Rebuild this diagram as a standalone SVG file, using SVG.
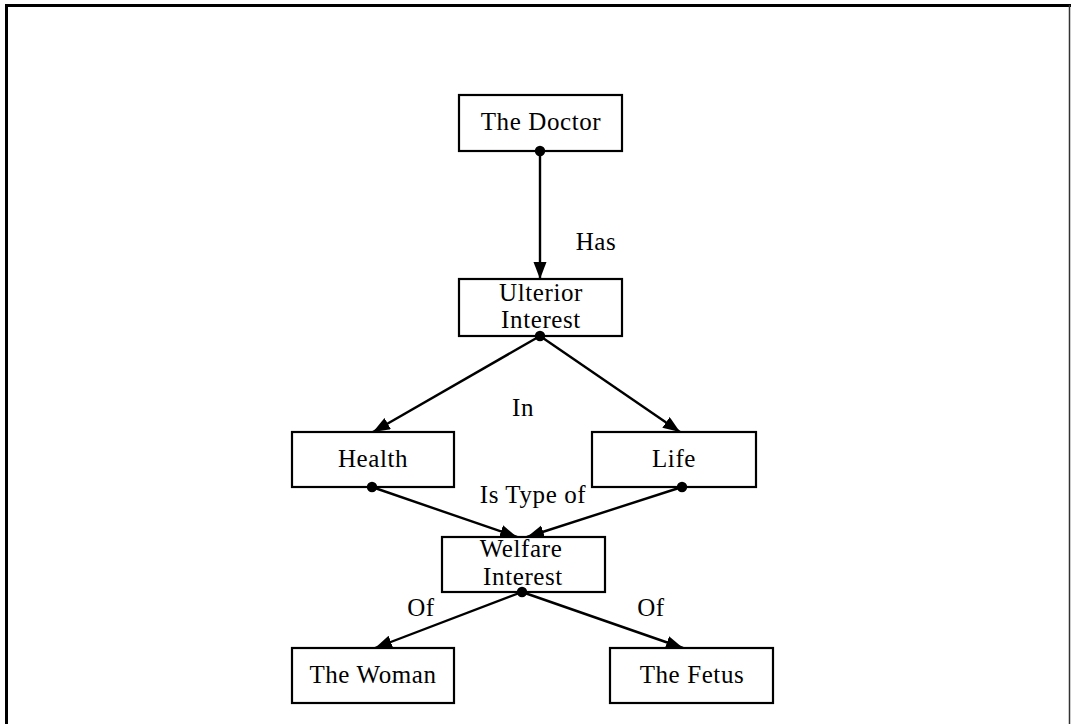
<svg xmlns="http://www.w3.org/2000/svg" width="1071" height="724" viewBox="0 0 1071 724">
<style>
.box{fill:#fff;stroke:#000;stroke-width:2.2}
.t{font-family:"Liberation Serif","Times New Roman",serif;font-size:25px;letter-spacing:0.6px;text-anchor:middle;fill:#000}
.c{stroke:#000;stroke-width:2.4;fill:none;marker-end:url(#arr)}
.d{fill:#000}
</style>
<defs>
<marker id="arr" markerUnits="userSpaceOnUse" markerWidth="20" markerHeight="14" refX="17" refY="6.5" orient="auto">
<path d="M0,0 L17,6.5 L0,13 Z" fill="#000"/>
</marker>
</defs>
<rect width="1071" height="724" fill="#fff"/>
<g id="frame">
<line x1="5" y1="5.5" x2="1071" y2="5.5" stroke="#000" stroke-width="3"/>
<line x1="6.5" y1="4" x2="6.5" y2="724" stroke="#000" stroke-width="3"/>
<line x1="1069.5" y1="5" x2="1069.5" y2="724" stroke="#333" stroke-width="1.5"/>
</g>
<g id="connectors">
<line class="c" x1="540" y1="151" x2="540" y2="279"/>
<line class="c" x1="540" y1="336" x2="373" y2="432"/>
<line class="c" x1="540" y1="336" x2="680" y2="432"/>
<line class="c" x1="372" y1="487" x2="517" y2="537"/>
<line class="c" x1="682" y1="487" x2="527" y2="537"/>
<line class="c" x1="522" y1="592" x2="375" y2="648"/>
<line class="c" x1="522" y1="592" x2="683" y2="648"/>
<text class="t" x="596" y="250">Has</text>
<text class="t" x="523" y="416">In</text>
<text class="t" x="533" y="503">Is Type of</text>
<text class="t" x="421" y="616">Of</text>
<text class="t" x="651" y="616">Of</text>
</g>
<g id="doctor">
<rect class="box" x="459" y="95" width="163" height="56"/>
<text class="t" x="541" y="130">The Doctor</text>
</g>
<g id="ulterior">
<rect class="box" x="459" y="279" width="163" height="57"/>
<text class="t" x="541" y="301">Ulterior</text>
<text class="t" x="541" y="328">Interest</text>
</g>
<g id="health">
<rect class="box" x="292" y="432" width="162" height="55"/>
<text class="t" x="373" y="467">Health</text>
</g>
<g id="life">
<rect class="box" x="592" y="432" width="164" height="55"/>
<text class="t" x="674" y="467">Life</text>
</g>
<g id="welfare">
<rect class="box" x="442" y="537" width="163" height="55"/>
<text class="t" x="521" y="557">Welfare</text>
<text class="t" x="523" y="585">Interest</text>
</g>
<g id="woman">
<rect class="box" x="292" y="648" width="162" height="55"/>
<text class="t" x="373" y="683">The Woman</text>
</g>
<g id="fetus">
<rect class="box" x="610" y="648" width="163" height="55"/>
<text class="t" x="692" y="683">The Fetus</text>
</g>
<g id="dots">
<circle class="d" cx="540" cy="151" r="5.2"/>
<circle class="d" cx="540" cy="336" r="5.2"/>
<circle class="d" cx="372" cy="487" r="5.2"/>
<circle class="d" cx="682" cy="487" r="5.2"/>
<circle class="d" cx="522" cy="592" r="5.2"/>
</g>
</svg>
